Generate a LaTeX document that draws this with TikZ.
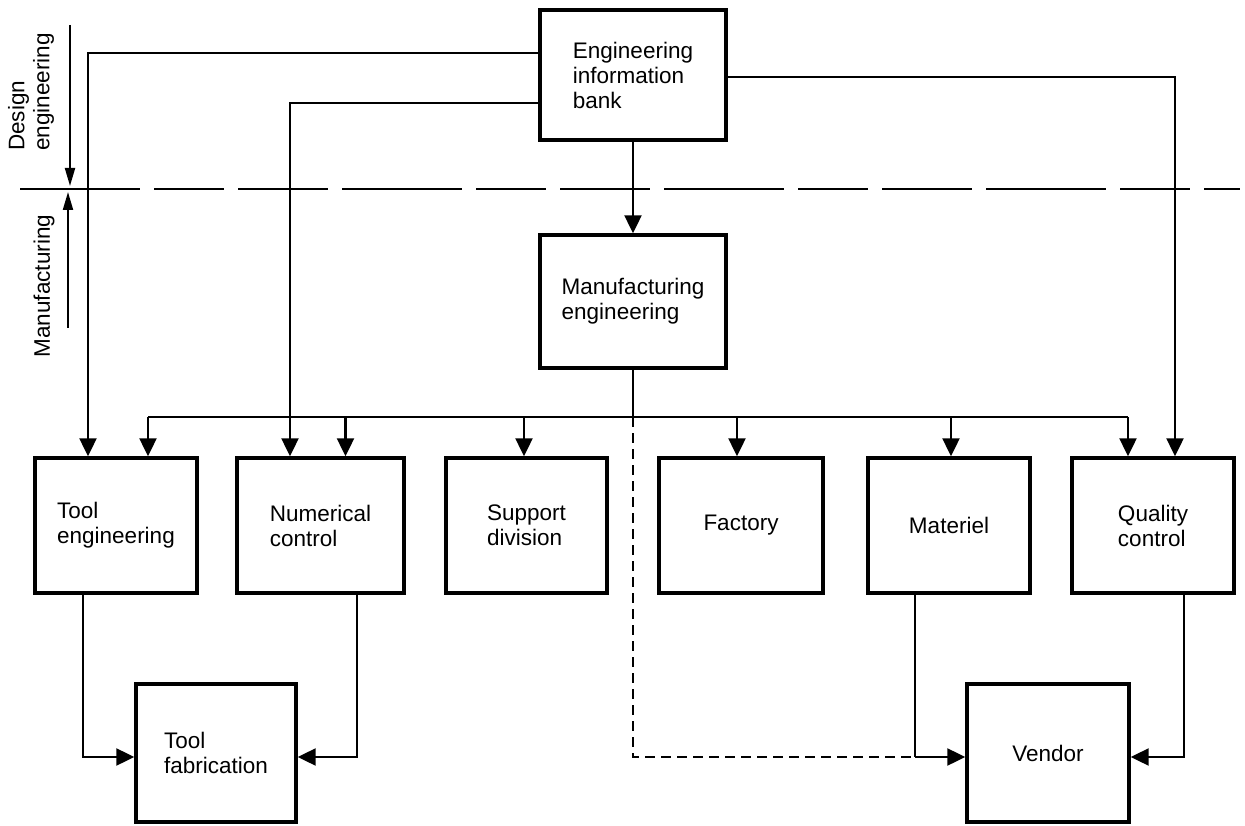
\documentclass[tikz,border=0pt]{standalone}
\usepackage{fontspec}
\setmainfont{Liberation Sans}
\usetikzlibrary{arrows.meta}
\begin{document}
\begin{tikzpicture}[x=1pt,y=-1pt,
  txt/.style={font=\fontsize{22.5}{25}\selectfont},
  box/.style={txt, draw, line width=3.4pt, align=left, inner sep=0pt,
              minimum width=162pt, minimum height=135pt},
  conn/.style={line width=2.2pt},
  arr/.style={conn, -{Triangle[length=18pt,width=17pt]}},
  sidearr/.style={line width=2pt, -{Triangle[length=18pt,width=10pt]}},
  dsh/.style={conn, dash pattern=on 10pt off 6pt},
  divider/.style={line width=2.4pt, dash pattern=on 120pt off 14pt on 70pt off 14pt on 90pt off 14pt},
  side/.style={txt, align=left, rotate=90, inner sep=0pt}]
\useasboundingbox (0,0) rectangle (1245,826);
\fill[white] (0,0) rectangle (1245,826);

% divider
\coordinate (dl) at (20,189);
\coordinate (dr) at (1240,189);
\draw[divider] (dl) -- (dr);

% side labels
\node[side] (design) at (31,92) {Design\\engineering};
\node[side] (manuf) at (44,286) {Manufacturing};
\coordinate (da) at (70,25);
\coordinate (db) at (70,186);
\coordinate (ma) at (68,328);
\coordinate (mb) at (68,192);
\draw[sidearr] (da) -- (db);
\draw[sidearr] (ma) -- (mb);

% boxes
\node[box, minimum width=186pt, minimum height=130pt] (eib) at (633,75) {Engineering\\information\\bank};
\node[box, minimum width=186pt, minimum height=133pt] (mfg) at (633,301.5) {Manufacturing\\engineering};
\node[box] (te)  at (116,525.5) {Tool\\engineering};
\node[box, minimum width=167pt] (nc)  at (320.5,525.5) {Numerical\\control};
\node[box, minimum width=161pt] (sd)  at (526.5,525.5) {Support\\division};
\node[box, minimum width=164pt] (fac) at (741,525.5) {Factory};
\node[box] (mat) at (949,525.5) {Materiel};
\node[box] (qc)  at (1153,525.5) {Quality\\control};
\node[box, minimum width=160pt, minimum height=138pt] (tf)  at (216,753) {Tool\\fabrication};
\node[box, minimum height=138pt] (ven) at (1048,753) {Vendor};

% from engineering information bank
\draw[arr] ([yshift=22pt]eib.west) -| ([xshift=-28pt]te.north);
\draw[arr] ([yshift=-28pt]eib.west) -| ([xshift=-30.5pt]nc.north);
\draw[arr] ([yshift=-2pt]eib.east) -| ([xshift=22pt]qc.north);
\draw[arr] (eib.south) -- (mfg.north);

% bus
\coordinate (bus) at (633,417);
\draw[conn] (mfg.south) -- (bus);
\draw[conn] ([xshift=32pt]te.north |- bus) -- ([xshift=-25pt]qc.north |- bus);
\draw[arr] ([xshift=32pt]te.north |- bus) -- ([xshift=32pt]te.north);
\draw[arr] ([xshift=25pt]nc.north |- bus) -- ([xshift=25pt]nc.north);
\draw[arr] ([xshift=-2.5pt]sd.north |- bus) -- ([xshift=-2.5pt]sd.north);
\draw[arr] ([xshift=-4pt]fac.north |- bus) -- ([xshift=-4pt]fac.north);
\draw[arr] ([xshift=2pt]mat.north |- bus) -- ([xshift=2pt]mat.north);
\draw[arr] ([xshift=-25pt]qc.north |- bus) -- ([xshift=-25pt]qc.north);

% to tool fabrication
\draw[arr] ([xshift=-33pt]te.south) |- ([yshift=-4pt]tf.west);
\draw[arr] ([xshift=36.5pt]nc.south) |- ([yshift=-4pt]tf.east);

% to vendor
\coordinate (vj) at (915,757);
\draw[dsh] (bus) |- (vj);
\draw[conn] ([xshift=-34pt]mat.south) -- (vj);
\draw[arr] (vj) -- ([yshift=-4pt]ven.west);
\draw[arr] ([xshift=31pt]qc.south) |- ([yshift=-4pt]ven.east);
\end{tikzpicture}
\end{document}
